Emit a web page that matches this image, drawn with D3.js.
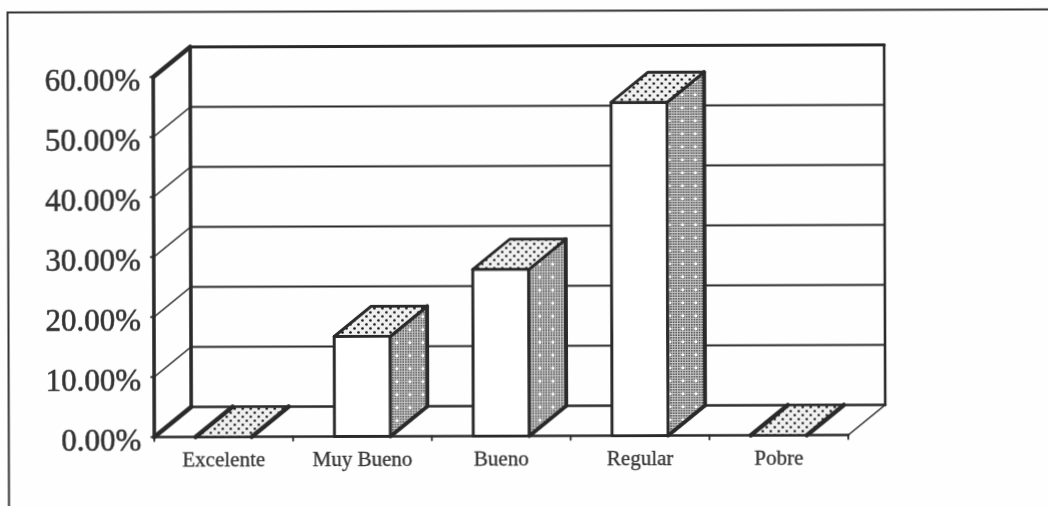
<!DOCTYPE html>
<html><head><meta charset="utf-8">
<script src="https://cdnjs.cloudflare.com/ajax/libs/d3/7.8.5/d3.min.js"></script>
<style>html,body{margin:0;padding:0;background:#fefefe;overflow:hidden}
text{font-family:"Liberation Serif","Times New Roman",serif;fill:#333}
.axis path,.axis line{display:none}</style></head><body>
<script>
const categories = ["Excelente","Muy Bueno","Bueno","Regular","Pobre"];
const values = [0, 16.67, 27.78, 55.56, 0];
const yTicks = [0,10,20,30,40,50,60];

const W=1048,H=506, dx=37, dy=-30, ink="#2a2a2a";
const svg=d3.select("body").append("svg").attr("width",W).attr("height",H).style("display","block");
const defs=svg.append("defs");
defs.append("filter").attr("id","scan").attr("x","-5%").attr("y","-5%").attr("width","110%").attr("height","110%")
  .append("feGaussianBlur").attr("stdDeviation",0.7);
const pt=defs.append("pattern").attr("id","dots").attr("patternUnits","userSpaceOnUse").attr("width",8).attr("height",8);
pt.append("rect").attr("width",8).attr("height",8).attr("fill","#f0f0f0");
[[1.5,1.5],[5.5,5.5]].forEach(c=>pt.append("circle").attr("cx",c[0]).attr("cy",c[1]).attr("r",1.35).attr("fill","#111"));
const ps=defs.append("pattern").attr("id","mesh").attr("patternUnits","userSpaceOnUse").attr("width",13).attr("height",13);
ps.append("rect").attr("width",13).attr("height",13).attr("fill","#555");
d3.range(0,13,2.6).forEach(v=>{
  ps.append("rect").attr("x",v).attr("y",0).attr("width",1).attr("height",13).attr("fill","#c8c8c8");
  ps.append("rect").attr("x",0).attr("y",v).attr("width",13).attr("height",1).attr("fill","#c8c8c8");
});
ps.append("rect").attr("x",4.5).attr("y",4.5).attr("width",2.6).attr("height",2.6).attr("fill","#fff");

const root=svg.append("g").attr("filter","url(#scan)").attr("transform","rotate(-0.17)");

// outer frame (open on right)
root.append("path").attr("d","M1060,12.5H7.5V520").attr("fill","none").attr("stroke","#333").attr("stroke-width",2);

const x=d3.scaleBand().domain(categories).range([153,847]);
const y=d3.scaleLinear().domain([0,60]).range([437.5,77.5]);
const barW=56, cx=c=>x(c)+x.bandwidth()/2;
const xEdges=d3.range(categories.length+1).map(i=>153+i*x.step());
const line=(g,x1,y1,x2,y2,w)=>g.append("line").attr("x1",x1).attr("y1",y1).attr("x2",x2).attr("y2",y2)
  .attr("stroke",ink).attr("stroke-width",w).attr("stroke-linecap","round");

const wall=root.append("g");
yTicks.forEach(t=>{
  const top=t===60, bot=t===0;
  line(wall,153,y(t),153+dx,y(t)+dy, top||bot?4.6:1.6);
  line(wall,153+dx,y(t)+dy,847+dx,y(t)+dy, top?3.2:bot?2.6:2);
  line(wall,150,y(t),153,y(t),1.8);
});
line(wall,153,y(60),153,y(0),3.6);
line(wall,153+dx,y(60)+dy,153+dx,y(0)+dy,3.6);
line(wall,847+dx,y(60)+dy,847+dx,y(0)+dy,2.6);
line(wall,847,y(0),847+dx,y(0)+dy,1.6);
line(wall,153,y(0),847,y(0),2.6);
xEdges.forEach(e=>line(wall,e,y(0),e,y(0)+4,1.8));

const bars=root.append("g").selectAll("g").data(categories.map((c,i)=>({c,v:values[i]}))).join("g");
bars.each(function(d){
  const g=d3.select(this), l=cx(d.c)-barW/2, r=l+barW, t=y(d.v), b=y(0);
  const poly=(pts,fill,w)=>g.append("polygon").attr("points",pts.map(p=>p.join(",")).join(" "))
    .attr("fill",fill).attr("stroke",ink).attr("stroke-width",w).attr("stroke-linejoin","round");
  if(d.v>0){
    poly([[l,t],[r,t],[r,b],[l,b]],"#fff",3);
    poly([[r,t],[r+dx,t+dy],[r+dx,b+dy],[r,b]],"url(#mesh)",3);
    line(g,r,b,r+dx,b+dy,4);
    line(g,r+dx,t+dy,r+dx,b+dy,3.8);
    line(g,r,t,r+dx,t+dy,3.8);
    poly([[l,t],[r,t],[r+dx,t+dy],[l+dx,t+dy]],"url(#dots)",3);
  } else {
    poly([[l,t],[r,t],[r+dx,t+dy],[l+dx,t+dy]],"url(#dots)",2.4);
    line(g,l,t,l+dx,t+dy,4.6);
    line(g,r,t,r+dx,t+dy,4.6);
  }
});

const ya=root.append("g").attr("class","axis").attr("transform","translate(153,0)")
  .call(d3.axisLeft(y).tickValues(yTicks).tickSize(0).tickPadding(13).tickFormat(v=>v.toFixed(2)+"%"));
ya.selectAll("text").attr("font-size",31).attr("font-family","Liberation Serif")
  .attr("dy","0.42em").style("fill","#333").style("stroke","#333").style("stroke-width",0.6);
const xa=root.append("g").attr("class","axis").attr("transform","translate(0,"+y(0)+")")
  .call(d3.axisBottom(x).tickSize(0).tickPadding(15));
xa.selectAll("text").attr("font-size",21).attr("font-family","Liberation Serif")
  .style("fill","#333").style("stroke","#333").style("stroke-width",0.3);
</script></body></html>
